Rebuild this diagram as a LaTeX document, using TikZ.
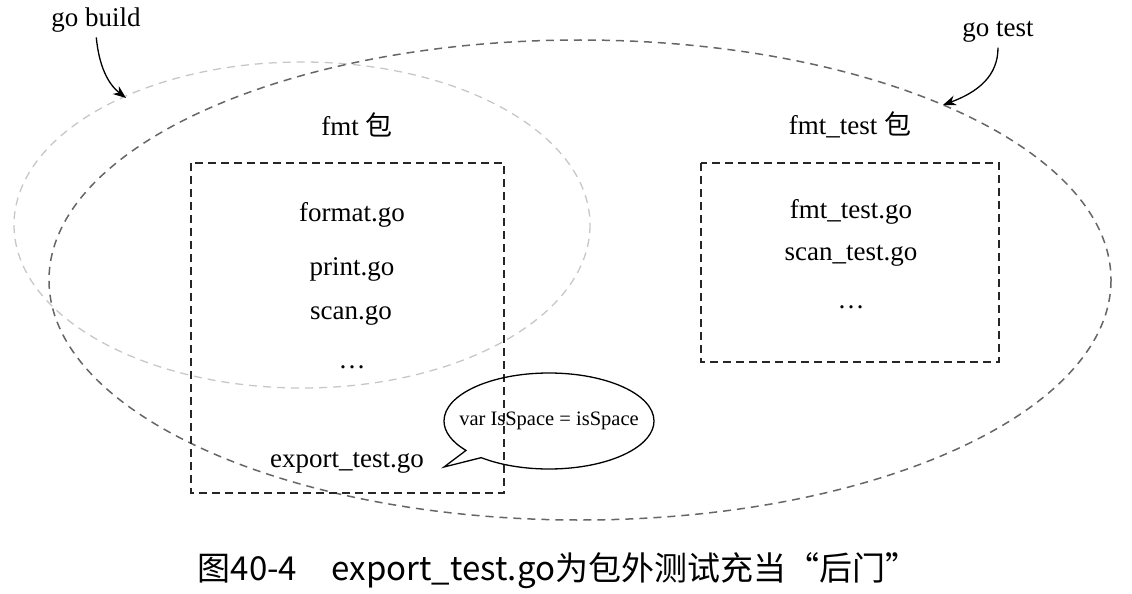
\documentclass[tikz,border=0pt]{standalone}
\usepackage{fontspec}
\setmainfont{Liberation Serif}
\newfontfamily\cjk{Noto Sans CJK SC}
\usetikzlibrary{shapes.callouts,arrows.meta}
\tikzset{lightring/.style={draw=black!22,dash pattern=on 8pt off 6pt,line width=1.3pt},
  darkring/.style={draw=black!60,dash pattern=on 8pt off 6pt,line width=1.5pt},
  pkgbox/.style={draw=black!85,dash pattern=on 8pt off 5pt,line width=1.5pt},
  file/.style={font=\fontsize{27}{32}\selectfont,inner sep=2pt},
  pointer/.style={-{Stealth[length=13pt,width=10pt]},line width=1.3pt,shorten <=3pt}}
\newcommand*{\Bao}{{\cjk 包}}

\begin{document}
\begin{tikzpicture}[x=1pt,y=-1pt]
\useasboundingbox (0,0) rectangle (1132,594);

\draw[lightring] (302,225) ellipse [x radius=288,y radius=163];% go build
\draw[darkring] (580,280) ellipse [x radius=531,y radius=240];% go test

\draw[pkgbox] (191,163) rectangle (504,493);
\draw[pkgbox] (701,163) rectangle (999,362);

\node[file] (build) at (96,20) {go build};
\node[file] (test) at (998,32) {go test};
\coordinate (buildtip) at (126,98);
\coordinate (testtip) at (943,105);
\draw[pointer] (build.south) .. controls (99,66) and (108,84) .. (buildtip);
\draw[pointer] (test.south) .. controls (998,76) and (978,92) .. (testtip);

\node[file] (fmtpkg) at (357,125) {fmt \Bao};
\node[file] (testpkg) at (850,125) {fmt\_test \Bao};

\node[file] (format) at (352,215) {format.go};
\node[file] (print) at (352,269) {print.go};
\node[file] (scan) at (351,315) {scan.go};
\node[file] (dots) at (352,367) {\dots};
\node[file] (export) at (347,463) {export\_test.go};

\node[file] (fmttest) at (851,212) {fmt\_test.go};
\node[file] (scantest) at (851,256) {scan\_test.go};
\node[file] (testdots) at (851,307) {\dots};

\coordinate (saytip) at (444,467);
\node[ellipse callout,draw,line width=1.3pt,inner sep=0pt,minimum width=210pt,minimum height=96pt,
  callout absolute pointer=(saytip),callout pointer arc=12,font=\fontsize{20.5}{24}\selectfont]
  (say) at (549,421) {\makebox[100pt]{var IsSpace = isSpace}};

\node[font=\cjk\fontsize{33}{40}\selectfont] (caption) at (558,571) {图40-4\hspace{1.05em}export\_test.go为包外测试充当“后门”};
\end{tikzpicture}
\end{document}
